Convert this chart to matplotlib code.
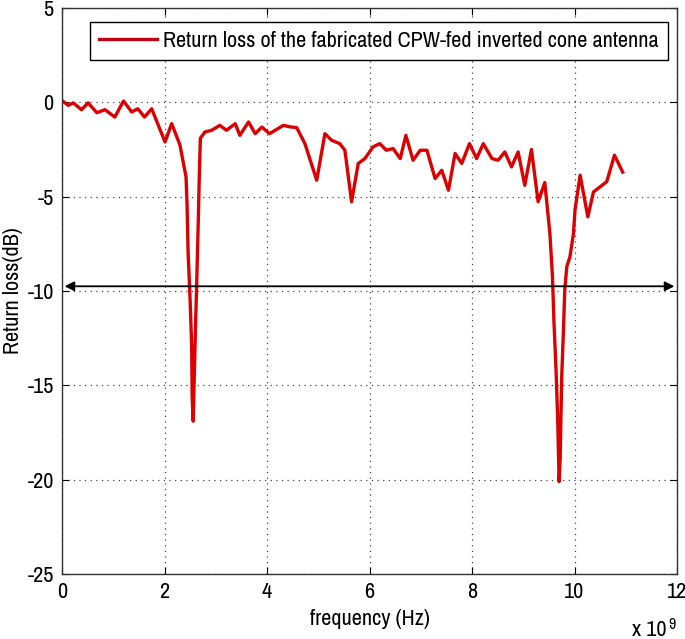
import matplotlib
matplotlib.use("Agg")
import matplotlib.pyplot as plt
from matplotlib import font_manager

# ---- data (frequency in GHz, return loss in dB) ----
freq_ghz = [0.00, 0.12, 0.22, 0.38, 0.51, 0.68, 0.84, 1.03, 1.20, 1.36, 1.48, 1.61, 1.75,
            2.01, 2.14, 2.30, 2.42, 2.44, 2.46, 2.50, 2.53, 2.54, 2.56, 2.60, 2.63, 2.66,
            2.68, 2.70, 2.79, 2.92, 3.08, 3.21, 3.38, 3.47, 3.64, 3.77, 3.90, 4.05, 4.32,
            4.45, 4.58, 4.74, 4.97, 5.13, 5.26, 5.42, 5.52, 5.65, 5.78, 5.91, 6.07, 6.20,
            6.33, 6.46, 6.60, 6.71, 6.85, 6.99, 7.12, 7.28, 7.41, 7.54, 7.67, 7.80, 7.95,
            8.09, 8.22, 8.39, 8.51, 8.64, 8.77, 8.90, 9.03, 9.16, 9.29, 9.42, 9.52, 9.57,
            9.60, 9.64, 9.67, 9.70, 9.72, 9.75, 9.78, 9.81, 9.85, 9.91, 9.98, 10.01, 10.11,
            10.26, 10.37, 10.50, 10.63, 10.78, 10.94]
return_loss_db = [0.10, -0.16, -0.03, -0.39, -0.03, -0.55, -0.39, -0.78, 0.07, -0.51, -0.34, -0.78, -0.34,
                  -2.10, -1.13, -2.25, -3.95, -5.40, -7.90, -10.5, -12.9, -15.6, -16.9, -12.4, -9.4, -6.2,
                  -3.8, -1.9, -1.57, -1.48, -1.22, -1.48, -1.13, -1.75, -1.04, -1.66, -1.31, -1.66, -1.22,
                  -1.30, -1.34, -2.19, -4.13, -1.66, -2.01, -2.19, -2.54, -5.27, -3.24, -2.98, -2.36, -2.19,
                  -2.54, -2.45, -2.98, -1.75, -3.07, -2.54, -2.54, -4.04, -3.60, -4.66, -2.71, -3.24, -2.19,
                  -2.98, -2.19, -2.98, -3.07, -2.63, -3.42, -2.63, -4.40, -2.50, -5.27, -4.25, -6.95, -9.24,
                  -11.7, -14.2, -16.6, -20.1, -18.9, -14.6, -12.4, -9.95, -8.7, -8.2, -6.95, -5.7, -3.86,
                  -6.07, -4.75, -4.48, -4.20, -2.80, -3.70]
threshold_db = -9.75
legend_label = "Return loss of the fabricated CPW-fed inverted cone antenna"
x_ticks = [0, 2, 4, 6, 8, 10, 12]
y_ticks = [5, 0, -5, -10, -15, -20, -25]

# ---- font: a narrow grotesque if available, else Liberation Sans ----
fam, fsize = "Liberation Sans", 13
for cand, sz in (("Liberation Sans Narrow", 16), ("Archivo Narrow", 16)):
    try:
        font_manager.findfont(font_manager.FontProperties(family=cand),
                              fallback_to_default=False)
        fam, fsize = cand, sz
        break
    except Exception:
        pass
plt.rcParams['font.family'] = [fam, 'Liberation Sans', 'DejaVu Sans']
plt.rcParams['font.size'] = fsize
plt.rcParams['axes.unicode_minus'] = False

fig = plt.figure(figsize=(6.85, 6.39), dpi=100)
ax = fig.add_axes([62/685, 1-574/639, (677-62)/685, (574-8)/639])

ax.plot(freq_ghz, return_loss_db, color='#dc0000', lw=2.4, label=legend_label,
        solid_joinstyle='round')

ax.annotate('', xy=(0.05, threshold_db), xytext=(11.95, threshold_db),
            arrowprops=dict(arrowstyle='<|-|>', color='black', lw=1.3,
                            mutation_scale=14, shrinkA=0, shrinkB=0))

ax.set_xlim(0, 12)
ax.set_ylim(-25, 5)
ax.set_xticks(x_ticks)
ax.set_yticks(y_ticks)
ax.tick_params(direction='in', top=True, right=True, length=5, width=0.8,
               labelsize=fsize, colors='black', pad=6)
ax.grid(True, linestyle=(0, (1, 3.5)), color='#444444', lw=0.9)
for s in ax.spines.values():
    s.set_linewidth(1.0)
    s.set_color('#333333')

ax.set_xlabel('frequency (Hz)', fontsize=fsize, labelpad=5)
ax.set_ylabel('Return loss(dB)', fontsize=fsize, labelpad=3)
fig.text(667/685, 3/639, 'x 10', ha='right', va='baseline', fontsize=fsize)
fig.text(668/685, (639-617)/639, '9', ha='left', va='top', fontsize=fsize * 0.72)

leg = ax.legend(loc='upper right', bbox_to_anchor=((668-62)/615, (574-22)/566),
                borderaxespad=0, fancybox=False,
                framealpha=1, edgecolor='black', handlelength=2.6,
                borderpad=0.4, handletextpad=0.3, fontsize=fsize)
leg.get_frame().set_linewidth(1.0)
leg.get_lines()[0].set_color('#c00010')

fig.savefig('out.png', dpi=100)
